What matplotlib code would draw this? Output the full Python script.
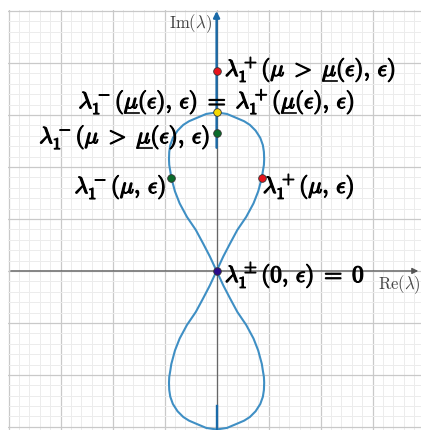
import matplotlib
matplotlib.use("Agg")
import matplotlib.pyplot as plt
import matplotlib.patheffects as pe
import numpy as np

plt.rcParams['mathtext.fontset'] = 'cm'

# Right half of the figure-eight curve (Re >= 0), traced from top of upper loop,
# through the origin, to the bottom of the lower loop.
curve_re = [0.00, 0.20, 0.39, 0.53, 0.64, 0.75, 0.84, 0.89, 0.91, 0.915, 0.91, 0.89,
            0.87, 0.80, 0.71, 0.57, 0.40, 0.26, 0.13, 0.00,
            0.13, 0.26, 0.40, 0.57, 0.71, 0.80, 0.87, 0.89, 0.91, 0.915, 0.91,
            0.89, 0.84, 0.75, 0.64, 0.53, 0.39, 0.20, 0.00]
curve_im = [3.05, 3.02, 2.94, 2.88, 2.81, 2.70, 2.56, 2.42, 2.29, 2.15, 2.04, 1.92,
            1.79, 1.53, 1.30, 1.04, 0.79, 0.53, 0.28, 0.00,
            -0.28, -0.53, -0.79, -1.04, -1.30, -1.53, -1.79, -1.92, -2.04, -2.15, -2.29,
            -2.42, -2.56, -2.70, -2.81, -2.88, -2.94, -3.02, -3.05]

# Blue segments on the imaginary axis
seg_top = [2.37, 5.0]
seg_bottom = [-3.06, -2.6]

# Marked points
pts_re = [0.0, 0.0, 0.0, -0.875, 0.875, 0.0]
pts_im = [3.85, 3.05, 2.65, 1.79, 1.79, 0.0]
pts_col = ['#e8141c', '#f5d800', '#0a6b2a', '#0a6b2a', '#e8141c', '#2a0a8c']

# Labels as lists of segments; segments marked True are underlined
labels = [
    [(r'\lambda_1^+(\mu\; >\; ', False), (r'\mu', True), (r'(\epsilon),\, \epsilon)', False)],
    [(r'\lambda_1^-(', False), (r'\mu', True), (r'(\epsilon),\, \epsilon)\; =\; \lambda_1^+(', False),
     (r'\mu', True), (r'(\epsilon),\, \epsilon)', False)],
    [(r'\lambda_1^-(\mu\; >\; ', False), (r'\mu', True), (r'(\epsilon),\, \epsilon)', False)],
    [(r'\lambda_1^-(\mu,\, \epsilon)', False)],
    [(r'\lambda_1^+(\mu,\, \epsilon)', False)],
    [(r'\lambda_1^\pm(0,\, \epsilon)\; =\; 0', False)],
]
label_pos = [(0.16, 3.75, 'left'), (0.0, 3.13, 'center'), (-0.125, 2.46, 'right'),
             (-0.97, 1.50, 'right'), (0.89, 1.50, 'left'), (0.16, -0.21, 'left')]

W, H = 421, 430
fig = plt.figure(figsize=(W/100, H/100), dpi=100)
ax = fig.add_axes([8/W, 0, (W-8)/W, (H-10)/H])
xmin, xmax = -4.01, 3.93
ymin, ymax = -3.06, 5.02
ax.set_xlim(xmin, xmax)
ax.set_ylim(ymin, ymax)
for s in ax.spines.values():
    s.set_visible(False)
ax.set_xticks([])
ax.set_yticks([])

# grid
for v in np.arange(-4.0, 4.01, 0.2):
    major = abs(v - round(v)) < 1e-6
    ax.axvline(v, color='#c9c9c9' if major else '#ececec', lw=0.9 if major else 0.7, zorder=0)
for v in np.arange(-3.0, 5.01, 0.2):
    major = abs(v - round(v)) < 1e-6
    ax.axhline(v, color='#c9c9c9' if major else '#ececec', lw=0.9 if major else 0.7, zorder=0)

# axes with arrows
ax.annotate('', xy=(xmax, 0), xytext=(xmin, 0),
            arrowprops=dict(arrowstyle='-|>', color='#555555', lw=0.9, mutation_scale=9), zorder=1)
ax.plot([0, 0], [ymin, ymax - 0.1], color='#666666', lw=0.9, zorder=1)

# curve
re = np.array(curve_re)
im = np.array(curve_im)
ax.plot(re, im, color='#3f8fc4', lw=1.5, zorder=2, solid_capstyle='round')
ax.plot(-re, im, color='#3f8fc4', lw=1.5, zorder=2, solid_capstyle='round')

# blue imaginary-axis segments
ax.annotate('', xy=(0, ymax - 0.02), xytext=(0, seg_top[0]),
            arrowprops=dict(arrowstyle='-|>', color='#1a6aa8', lw=1.7, mutation_scale=9,
                            shrinkA=0, shrinkB=0), zorder=3)
ax.plot([0, 0], seg_bottom, color='#1a6aa8', lw=1.7, zorder=3)

# points
for x, y, c in zip(pts_re, pts_im, pts_col):
    ax.plot([x], [y], 'o', ms=5.5, mfc=c, mec='#333333', mew=0.6, zorder=5)

# labels
FS = 16.8
STROKE = [pe.withStroke(linewidth=0.9, foreground='#000000')]
renderer = fig.canvas.get_renderer()
inv = ax.transData.inverted()

def mwidth(s):
    t = ax.text(0, 0, '$' + s + '$', fontsize=FS)
    bb = t.get_window_extent(renderer)
    t.remove()
    return bb.width

for segs, (x, y, ha) in zip(labels, label_pos):
    full = ''.join(s for s, _ in segs)
    total = mwidth(full)
    x0_px, y0_px = ax.transData.transform((x, y))
    if ha == 'center':
        x0_px -= total / 2
    elif ha == 'right':
        x0_px -= total
    xl = inv.transform((x0_px, y0_px))[0]
    ax.text(xl, y, '$' + full + '$', fontsize=FS, ha='left', va='baseline',
            color='#000000', zorder=6, path_effects=STROKE)
    prefix = ''
    for s, ul in segs:
        prefix += s
        if ul:
            end_px = x0_px + mwidth(prefix)
            w = mwidth(s)
            p1 = inv.transform((end_px - w + 1, y0_px - 5))
            p2 = inv.transform((end_px, y0_px - 5))
            ax.plot([p1[0], p2[0]], [p1[1], p2[1]], color='#000000', lw=1.2, zorder=6)

ax.text(-0.09, 4.75, r'$\mathrm{Im}(\lambda)$', fontsize=12, ha='right', va='center', color='#444444')
ax.text(3.92, -0.27, r'$\mathrm{Re}(\lambda)$', fontsize=12, ha='right', va='center', color='#444444')

fig.savefig('out.png', dpi=100)
